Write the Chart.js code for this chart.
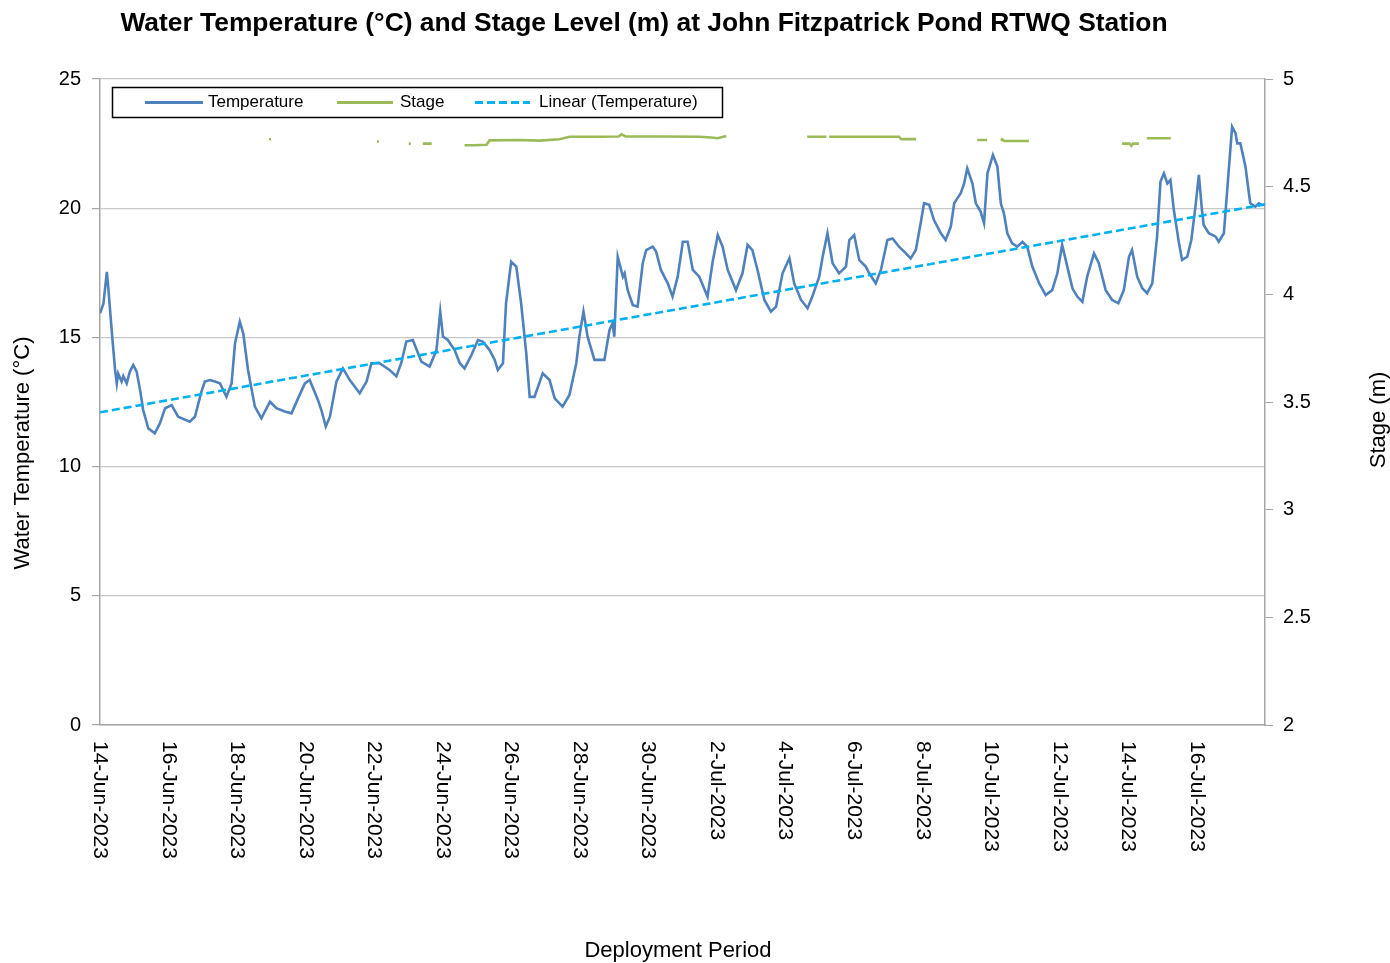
<!DOCTYPE html>
<html>
<head>
<meta charset="utf-8">
<script src="https://cdn.jsdelivr.net/npm/chart.js@4.4.0/dist/chart.umd.min.js"></script>
<style>
html,body{margin:0;padding:0;background:#fff;}
#wrap{width:1390px;height:963px;position:relative;}
</style>
</head>
<body>
<div id="wrap"><canvas id="c" width="1390" height="963"></canvas></div>
<script>
// ---- DATA ----
const chartTitle = "Water Temperature (\u00B0C) and Stage Level (m) at John Fitzpatrick Pond RTWQ Station";
const xTitle = "Deployment Period";
const yLeftTitle = "Water Temperature (\u00B0C)";
const yRightTitle = "Stage (m)";
const startDate = [2023, 5, 14]; // 14-Jun-2023 (day 0)
const monthNames = ["Jan","Feb","Mar","Apr","May","Jun","Jul","Aug","Sep","Oct","Nov","Dec"];

// Temperature: days since 14-Jun-2023 00:00, and values (°C)
const tempDays = [0.00,0.10,0.20,0.24,0.34,0.44,0.49,0.53,0.63,0.68,0.78,0.87,0.97,1.07,1.17,1.26,1.41,1.60,1.75,1.90,2.09,2.28,2.62,2.77,2.96,3.06,3.21,3.35,3.50,3.69,3.84,3.94,4.08,4.18,4.32,4.52,4.71,4.96,5.15,5.39,5.59,5.78,5.98,6.12,6.36,6.46,6.59,6.71,6.90,7.09,7.29,7.58,7.78,7.92,8.16,8.45,8.65,8.79,8.94,9.13,9.38,9.62,9.82,9.93,10.01,10.15,10.35,10.50,10.64,10.84,11.03,11.17,11.37,11.52,11.61,11.76,11.85,12.00,12.15,12.29,12.44,12.54,12.68,12.92,13.12,13.27,13.50,13.70,13.90,13.99,14.11,14.23,14.43,14.72,14.87,14.96,15.01,15.11,15.26,15.31,15.40,15.55,15.69,15.84,15.94,16.13,16.23,16.37,16.57,16.71,16.86,17.01,17.15,17.30,17.49,17.73,17.88,18.03,18.17,18.32,18.56,18.75,18.90,19.04,19.19,19.39,19.58,19.73,19.92,20.12,20.26,20.46,20.65,20.79,20.99,21.09,21.23,21.38,21.57,21.77,21.87,22.01,22.16,22.35,22.45,22.64,22.79,22.98,23.13,23.32,23.52,23.66,23.81,23.95,24.05,24.20,24.34,24.54,24.68,24.83,24.93,25.02,25.12,25.22,25.31,25.46,25.56,25.70,25.80,25.90,26.06,26.19,26.29,26.38,26.48,26.62,26.77,26.92,27.06,27.21,27.41,27.60,27.79,27.94,28.08,28.23,28.38,28.52,28.67,28.81,29.01,29.15,29.35,29.54,29.72,29.88,30.03,30.12,30.27,30.42,30.56,30.71,30.85,30.95,31.05,31.15,31.24,31.34,31.49,31.58,31.73,31.85,31.97,32.07,32.16,32.21,32.36,32.56,32.65,32.80,32.89,33.04,33.14,33.19,33.28,33.43,33.53,33.57,33.72,33.82,33.91];
const tempValues = [15.93,16.30,17.54,16.96,15.29,13.74,13.22,13.60,13.29,13.50,13.22,13.67,13.93,13.67,12.96,12.19,11.48,11.29,11.68,12.26,12.38,11.93,11.74,11.93,12.90,13.29,13.35,13.29,13.22,12.70,13.22,14.77,15.61,15.16,13.74,12.32,11.87,12.51,12.26,12.13,12.06,12.64,13.22,13.35,12.58,12.19,11.55,11.93,13.29,13.80,13.35,12.84,13.29,14.00,14.00,13.74,13.50,14.00,14.84,14.90,14.06,13.87,14.51,16.00,15.03,14.90,14.51,14.00,13.80,14.32,14.90,14.84,14.51,14.13,13.74,14.00,16.32,17.93,17.74,16.32,14.38,12.70,12.70,13.61,13.35,12.64,12.32,12.77,14.00,15.03,16.00,15.03,14.13,14.13,15.29,15.55,15.03,18.12,17.35,17.48,16.83,16.25,16.19,17.87,18.38,18.51,18.32,17.61,17.09,16.58,17.35,18.70,18.70,17.61,17.35,16.58,17.93,18.96,18.51,17.61,16.83,17.48,18.58,18.38,17.61,16.45,16.00,16.19,17.48,18.06,17.09,16.45,16.13,16.58,17.35,18.12,19.03,17.87,17.48,17.74,18.77,18.96,17.99,17.74,17.48,17.09,17.61,18.77,18.83,18.51,18.25,18.06,18.38,19.42,20.19,20.13,19.54,19.03,18.77,19.29,20.19,20.38,20.58,20.96,21.54,20.96,20.19,19.87,19.42,21.35,22.06,21.61,20.19,19.80,19.03,18.64,18.51,18.70,18.51,17.74,17.09,16.64,16.83,17.48,18.58,17.74,16.90,16.58,16.38,17.35,18.25,17.87,16.83,16.45,16.32,16.83,18.12,18.38,17.35,16.90,16.71,17.09,18.90,21.03,21.35,20.96,21.09,19.93,18.64,18.00,18.12,18.77,20.06,21.29,19.93,19.35,19.03,18.90,18.70,19.03,20.58,23.15,22.90,22.51,22.51,21.61,20.58,20.19,20.06,20.19,20.13];

// Stage (m): days and values; null marks a gap in the record
const stageDays = [4.93,4.99,5.0, 8.08,8.14,8.2, 9.01,9.07,9.1, 9.42,9.68,9.8, 10.64,10.93,11.28,11.37,12.24,12.83,13.41,13.70,14.58,15.13,15.22,15.34,16.33,17.49,17.84,18.02,18.13,18.28,18.4, 20.64,21.20,21.25, 21.28,23.32,23.38,23.82,23.9, 25.60,25.89,26.0, 26.30,26.33,26.40,27.11,27.2, 29.83,30.05,30.10,30.15,30.32,30.4, 30.55,31.25];
const stageValues = [4.72,4.72,null, 4.71,4.71,null, 4.70,4.70,null, 4.70,4.70,null, 4.692,4.692,4.695,4.715,4.717,4.714,4.72,4.732,4.732,4.733,4.743,4.733,4.733,4.732,4.728,4.725,4.73,4.735,null, 4.732,4.732,null, 4.732,4.732,4.721,4.721,null, 4.717,4.717,null, 4.712,4.72,4.712,4.712,null, 4.70,4.70,4.69,4.70,4.70,null, 4.725,4.725];

// Linear trend of temperature (end points)
const trendDays = [0, 34];
const trendValues = [12.1, 20.15];

// Axis ticks
const xMin = 0, xMax = 34, xStep = 2;
const yLeftMin = 0, yLeftMax = 25, yLeftStep = 5;
const yRightMin = 2, yRightMax = 5, yRightStep = 0.5;

// ---- helpers ----
function dayLabel(d){
  const dt = new Date(Date.UTC(startDate[0], startDate[1], startDate[2] + Math.round(d)));
  return dt.getUTCDate() + "-" + monthNames[dt.getUTCMonth()] + "-" + dt.getUTCFullYear();
}
function pts(xs, ys){ return xs.map((x,i)=>({x:x, y:ys[i]})); }

const FONT = "'Liberation Sans', Arial, sans-serif";
const C_TEMP = "#4F81BD", C_STAGE = "#9BBB59", C_TREND = "#00B0F0";

const overlay = {
  id: 'overlay',
  beforeDraw(chart){
    const ctx = chart.ctx;
    ctx.save(); ctx.fillStyle = '#fff'; ctx.fillRect(0,0,chart.width,chart.height); ctx.restore();
  },
  afterDraw(chart){
    const ctx = chart.ctx;
    const xs = chart.scales.x, ya = chart.chartArea;
    ctx.save();
    // title
    ctx.fillStyle = '#000';
    ctx.font = "bold 26.4px " + FONT;
    ctx.textAlign = 'center'; ctx.textBaseline = 'middle';
    ctx.fillText(chartTitle, 644, 24);
    // x tick labels rotated clockwise
    ctx.font = "21px " + FONT;
    ctx.fillStyle = '#000';
    xs.ticks.forEach(t=>{
      if (t.value >= xMax) return;
      const px = xs.getPixelForValue(t.value);
      ctx.save();
      ctx.translate(px, ya.bottom + 16);
      ctx.rotate(Math.PI/2);
      ctx.textAlign = 'left'; ctx.textBaseline = 'middle';
      ctx.fillText(dayLabel(t.value), 0, 0);
      ctx.restore();
    });
    // axis titles
    ctx.font = "22px " + FONT;
    ctx.textAlign = 'center'; ctx.textBaseline = 'middle';
    ctx.fillText(xTitle, 678, 951);
    ctx.save(); ctx.translate(23, 453); ctx.rotate(-Math.PI/2); ctx.fillText(yLeftTitle, 0, 0); ctx.restore();
    ctx.save(); ctx.translate(1379, 420); ctx.rotate(-Math.PI/2); ctx.fillText(yRightTitle, 0, 0); ctx.restore();
    // legend
    ctx.fillStyle = '#fff';
    ctx.fillRect(112, 87, 611, 30);
    ctx.strokeStyle = '#000'; ctx.lineWidth = 1.5;
    ctx.strokeRect(112.5, 87.5, 610, 30);
    const items = [
      {x0:145, x1:203, tx:208, color:C_TEMP, dash:[], label: chart.data.datasets[0].label},
      {x0:337, x1:393, tx:400, color:C_STAGE, dash:[], label: chart.data.datasets[1].label},
      {x0:475, x1:530, tx:539, color:C_TREND, dash:[8,4], label: chart.data.datasets[2].label}
    ];
    ctx.font = "17px " + FONT;
    ctx.textAlign = 'left'; ctx.textBaseline = 'middle';
    items.forEach(it=>{
      ctx.beginPath(); ctx.setLineDash(it.dash); ctx.strokeStyle = it.color; ctx.lineWidth = 3;
      ctx.moveTo(it.x0, 102.5); ctx.lineTo(it.x1, 102.5); ctx.stroke();
      ctx.setLineDash([]);
      ctx.fillStyle = '#000';
      ctx.fillText(it.label, it.tx, 102.5);
    });
    ctx.restore();
  }
};

new Chart(document.getElementById('c'), {
  type: 'line',
  data: {
    datasets: [
      {label:'Temperature', data: pts(tempDays,tempValues), borderColor:C_TEMP, borderWidth:2.6, pointRadius:0, yAxisID:'y', order:2, tension:0},
      {label:'Stage', data: pts(stageDays,stageValues), borderColor:C_STAGE, borderWidth:2.6, pointRadius:0, yAxisID:'y2', order:1, spanGaps:false, tension:0},
      {label:'Linear (Temperature)', data: pts(trendDays,trendValues), borderColor:C_TREND, borderWidth:2.6, borderDash:[8,4], pointRadius:0, yAxisID:'y', order:0}
    ]
  },
  options: {
    responsive:false, animation:false,
    layout:{padding:{top:79,left:0,right:0,bottom:0}},
    plugins:{legend:{display:false}, title:{display:false}, tooltip:{enabled:false}},
    scales:{
      x:{type:'linear', min:xMin, max:xMax,
         ticks:{stepSize:xStep, display:false},
         grid:{display:false},
         border:{display:true, color:'#a6a6a6', width:1.5},
         afterFit(s){ s.height = 238; }},
      y:{type:'linear', position:'left', min:yLeftMin, max:yLeftMax,
         ticks:{stepSize:yLeftStep, color:'#000', font:{family:FONT, size:20}, padding:11},
         grid:{color:'#c8c8c8', lineWidth:1.2, tickColor:'#a6a6a6', tickLength:8},
         border:{display:true, color:'#a6a6a6', width:1.5},
         afterFit(s){ s.width = 100; }},
      y2:{type:'linear', position:'right', min:yRightMin, max:yRightMax,
         ticks:{stepSize:yRightStep, color:'#000', font:{family:FONT, size:20}, padding:10,
                callback:(v)=>String(v)},
         grid:{drawOnChartArea:false, tickColor:'#a6a6a6', tickLength:8},
         border:{display:true, color:'#a6a6a6', width:1.5},
         afterFit(s){ s.width = 125; }}
    }
  },
  plugins:[overlay]
});
</script>
</body>
</html>
